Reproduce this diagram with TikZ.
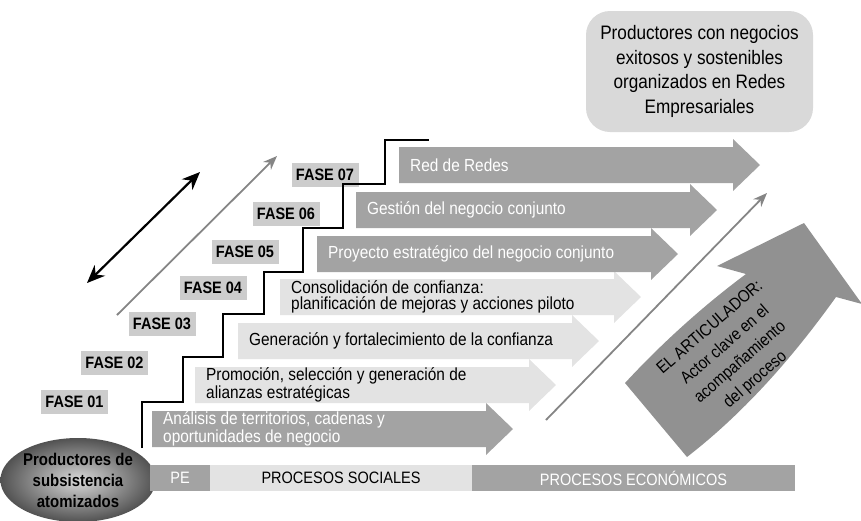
\documentclass[tikz,border=0pt]{standalone}
\usepackage{fontspec}
\setmainfont{Liberation Sans}[FakeStretch=0.88]
\usepackage{tikz}
\usetikzlibrary{arrows.meta,positioning,shapes.geometric}

\definecolor{darkgr}{gray}{0.64}
\definecolor{lightgr}{gray}{0.89}
\definecolor{fasegr}{gray}{0.80}
\definecolor{boxgr}{gray}{0.85}
\definecolor{linegr}{gray}{0.52}
\definecolor{bigarr}{gray}{0.57}

% block arrow: name, left x, top y, fill, text colour, text
\newcommand{\fasearrow}[6]{
  \fill[#4] (#2,#3) -- ++(334,0) -- ++(0,-8) -- ++(27,26) -- ++(-27,26)
    -- ++(0,-8) -- ++(-334,0) -- cycle;
  \node[arrowtext, text=#5] (#1) at (#2+11,#3+18) {#6};
}

\begin{document}
\begin{tikzpicture}[x=1pt,y=-1pt,>=Stealth]
    \tikzstyle{fase}=[fill=fasegr,minimum width=67pt,minimum height=24pt,
        inner sep=0pt,font=\fontsize{16.5}{20}\selectfont\bfseries]
    \tikzstyle{arrowtext}=[anchor=west,align=left,inner sep=0pt,
        font=\fontsize{17.5}{16}\selectfont]
    \tikzstyle{bar}=[minimum height=26pt,inner sep=0pt,outer sep=0pt,
        font=\fontsize{16.5}{20}\selectfont]

    \useasboundingbox (0,0) rectangle (861,520);

    % phase arrows
    \fasearrow{A1}{152}{411}{darkgr}{white}{Análisis de territorios, cadenas y\\oportunidades de negocio}
    \fasearrow{A2}{195}{367}{lightgr}{black}{Promoción, selección y generación de\\alianzas estratégicas}
    \fasearrow{A3}{238}{323}{lightgr}{black}{Generación y fortalecimiento de la confianza}
    \fasearrow{A4}{280}{279}{lightgr}{black}{Consolidación de confianza:\\planificación de mejoras y acciones piloto}
    \fasearrow{A5}{317}{236}{darkgr}{white}{Proyecto estratégico del negocio conjunto}
    \fasearrow{A6}{356}{192}{darkgr}{white}{Gestión del negocio conjunto}
    \fasearrow{A7}{399}{147}{darkgr}{white}{Red de Redes}

    % phase labels
    \node[fase] (F1) at (74.5,402) {FASE 01};
    \node[fase] (F2) at (114.5,363) {FASE 02};
    \node[fase] (F3) at (162,324) {FASE 03};
    \node[fase] (F4) at (213,288) {FASE 04};
    \node[fase] (F5) at (245,252) {FASE 05};
    \node[fase] (F6) at (286,214) {FASE 06};
    \node[fase] (F7) at (325,175) {FASE 07};

    % staircase
    \draw[line width=2.6pt] (142,448) -- (142,402) -- (183,402) -- (183,357)
        -- (223,357) -- (223,314) -- (264,314) -- (264,272) -- (303,272)
        -- (303,228) -- (343,228) -- (343,184) -- (385,184) -- (385,140)
        -- (429,140);

    % start and goal
    \node[ellipse,minimum width=134pt,minimum height=84pt,inner sep=0pt,
        inner color=black!15,outer color=black!68,align=center,
        font=\fontsize{17}{21}\selectfont\bfseries] (S) at (78,480)
        {Productores de\\subsistencia\\atomizados};
    \node[rectangle,rounded corners=24pt,fill=boxgr,minimum width=227pt,
        minimum height=121pt,align=center,
        font=\fontsize{19.5}{24.5}\selectfont] (G) at (699.5,71.5)
        {Productores con negocios\\exitosos y sostenibles\\organizados en Redes\\Empresariales};

    % diagonals
    \coordinate (D1) at (87,283);
    \coordinate (D2) at (200,172);
    \coordinate (L1) at (117,315);
    \coordinate (L2) at (277,156);
    \coordinate (R1) at (546,420);
    \coordinate (R2) at (767,193);
    \draw[{Stealth[length=18pt,width=15pt]}-{Stealth[length=18pt,width=15pt]},
        line width=2.2pt] (D1) -- (D2);
    \draw[-{Stealth[length=14pt,width=11pt]},linegr,line width=1.8pt] (L1) -- (L2);
    \draw[-{Stealth[length=14pt,width=11pt]},linegr,line width=1.8pt] (R1) -- (R2);

    % articulator arrow
    \fill[bigarr] (625,383) .. controls (662,343) and (703,306) .. (746,274)
        -- (717,266) -- (804,223) -- (862,304) -- (836,297)
        .. controls (793,357) and (745,412) .. (687,457) -- cycle;
    \node[rotate=41,align=center,inner sep=0pt,
        font=\fontsize{17}{23}\selectfont] (ART) at (733,354)
        {EL ARTICULADOR:\\Actor clave en el\\acompañamiento\\del proceso};

    % process bar
    \node[bar,fill=darkgr,text=white,minimum width=60pt,anchor=west] (PE) at (150,478) {PE};
    \node[bar,fill=lightgr,minimum width=262pt,right=0pt of PE] (PS) {PROCESOS SOCIALES};
    \node[bar,fill=darkgr,text=white,minimum width=323pt,right=0pt of PS] (PEC) {PROCESOS ECONÓMICOS};
\end{tikzpicture}
\end{document}
